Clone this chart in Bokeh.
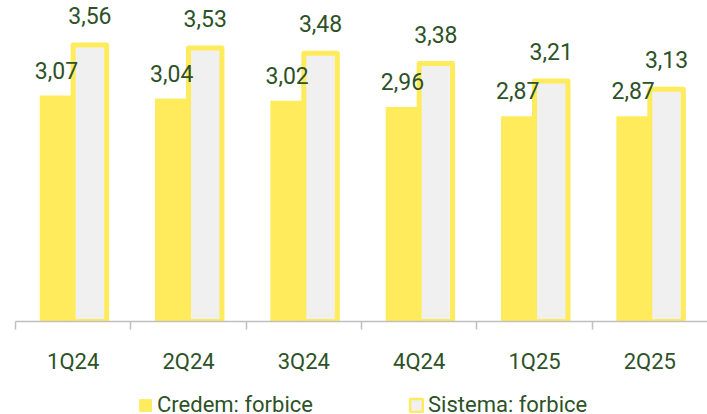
import numpy as np
from bokeh.plotting import figure
from bokeh.layouts import column
from bokeh.models import (ColumnDataSource, FixedTicker, Range1d, Legend,
                          LegendItem, LabelSet)
from bokeh.core.properties import value
from bokeh.embed import file_html
from bokeh.resources import INLINE

# ---- data ----
quarters = ["1Q24", "2Q24", "3Q24", "4Q24", "1Q25", "2Q25"]
credem = [3.07, 3.04, 3.02, 2.96, 2.87, 2.87]
sistema = [3.56, 3.53, 3.48, 3.38, 3.21, 3.13]
series_names = ["Credem: forbice", "Sistema: forbice"]

# ---- style ----
YELLOW = "#FFEB5B"
GREY_FILL = "#F0F0F0"
GREEN = "#2D5227"
AXIS_GREY = "#BFBFBF"
FONT = "Roboto"
FS = "22px"
FS_VAL = "23px"
BAR_W = 0.29
Y0, Y1 = 0.882, 3.99

idx = np.arange(len(quarters))
centers = idx + 0.5


def fmt(v):
    return f"{v:.2f}".replace(".", ",")


src_c = ColumnDataSource(dict(x=centers - BAR_W / 2, top=credem,
                              label=[fmt(v) for v in credem]))
src_s = ColumnDataSource(dict(x=centers + BAR_W / 2, top=sistema,
                              label=[fmt(v) for v in sistema]))

p = figure(width=707, height=376, x_range=Range1d(0, len(quarters)),
           y_range=Range1d(Y0, Y1), output_backend="svg", toolbar_location=None,
           min_border_left=15, min_border_right=0, min_border_top=0,
           min_border_bottom=45)
p.outline_line_color = None
p.grid.visible = False
p.yaxis.visible = False

p.vbar(x="x", top="top", bottom=Y0, width=BAR_W, source=src_c,
       fill_color=YELLOW, line_color=None)
p.vbar(x="x", top="top", bottom=Y0, width=BAR_W, source=src_s,
       fill_color=GREY_FILL, line_color=YELLOW, line_width=5, line_join="round")

for src, off in ((src_c, 17), (src_s, 21)):
    p.add_layout(LabelSet(x="x", y="top", text="label", source=src,
                          text_font=value(FONT), text_font_size=value(FS_VAL),
                          text_color=GREEN, text_align="center",
                          text_baseline="alphabetic", y_offset=off))

xa = p.xaxis[0]
xa.ticker = FixedTicker(ticks=list(centers), minor_ticks=list(idx.astype(float)))
xa.major_label_overrides = {float(c): q for c, q in zip(centers, quarters)}
xa.major_tick_out = 0
xa.major_tick_in = 0
xa.minor_tick_out = 8
xa.minor_tick_in = 0
xa.minor_tick_line_color = AXIS_GREY
xa.minor_tick_line_width = 1.5
xa.axis_line_color = AXIS_GREY
xa.axis_line_width = 1.5
xa.major_label_standoff = 19
xa.major_label_text_font = FONT
xa.major_label_text_font_size = FS
xa.major_label_text_color = GREEN

# ---- legend strip (same series, renderers hidden; legend still draws swatches) ----
lf = figure(width=707, height=38, x_range=Range1d(0, len(quarters)),
            y_range=Range1d(100, 101), output_backend="svg",
            toolbar_location=None, min_border=0)
lf.outline_line_color = None
lf.axis.visible = False
lf.grid.visible = False
r_c = lf.vbar(x="x", top="top", bottom=Y0, width=BAR_W, source=src_c,
              fill_color=YELLOW, line_color=None)
r_s = lf.vbar(x="x", top="top", bottom=Y0, width=BAR_W, source=src_s,
              fill_color=GREY_FILL, line_color=YELLOW, line_width=2.5)
r_c.visible = False
r_s.visible = False


def make_legend(label, rend, loc):
    return Legend(items=[LegendItem(label=label, renderers=[rend])], location=loc,
                  orientation="horizontal", glyph_width=16, glyph_height=16,
                  label_standoff=4, padding=0, margin=0, border_line_color=None,
                  background_fill_alpha=0, label_text_font=FONT,
                  label_text_font_size=FS, label_text_color=GREEN,
                  label_text_baseline="middle", inactive_fill_alpha=0)


lf.add_layout(make_legend(series_names[0], r_c, (122, -3)))
lf.add_layout(make_legend(series_names[1], r_s, (393, -3)))

open("out.html", "w").write(file_html(column(p, lf, spacing=0), INLINE))
